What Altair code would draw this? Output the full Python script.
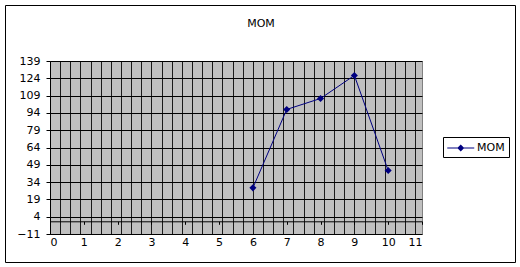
import altair as alt
import pandas as pd

# data
x_vals = [6, 7, 8, 9, 10]
y_vals = [29, 97, 106.5, 126.5, 44]
series = ["MOM"] * 5
y_ticks = [-11, 4, 19, 34, 49, 64, 79, 94, 109, 124, 139]
x_ticks = list(range(0, 12))
x_grid = [round(i * 0.3, 1) for i in range(0, 37)]
chart_title = "MOM"

df = pd.DataFrame({"x": x_vals, "y": y_vals, "series": series})

FONT = "DejaVu Sans"
NAVY = "#000080"

xscale = alt.Scale(domain=[0, 11], nice=False, zero=False)
yscale = alt.Scale(domain=[-11, 139], nice=False, zero=False)

y_enc = alt.Y(
    "y:Q",
    scale=yscale,
    title=None,
    axis=alt.Axis(
        orient="left",
        values=y_ticks,
        grid=True,
        gridColor="#000000",
        gridOpacity=1,
        gridWidth=1,
        tickSize=4,
        tickColor="#000000",
        domainColor="#000000",
        labelFont=FONT,
        labelFontSize=11,
        labelColor="#000000",
        labelPadding=6,
    ),
)

base = alt.Chart(df)

line = base.mark_line(color=NAVY, strokeWidth=1).encode(
    x=alt.X(
        "x:Q",
        scale=xscale,
        title=None,
        axis=alt.Axis(
            orient="bottom",
            values=x_grid,
            grid=True,
            gridColor="#1a1a1a",
            gridOpacity=1,
            gridWidth=1,
            ticks=False,
            labels=False,
            domain=False,
        ),
    ),
    y=y_enc,
)

zero_axis = base.mark_point(opacity=0).encode(
    x=alt.X(
        "x:Q",
        scale=xscale,
        title=None,
        axis=alt.Axis(
            orient="bottom",
            values=x_ticks,
            grid=False,
            labels=False,
            domain=True,
            domainColor="#000000",
            ticks=True,
            tickSize=3,
            tickColor="#000000",
            offset=-12.7,
        ),
    ),
    y=y_enc,
)

points = base.mark_point(filled=True, shape="diamond", size=50, opacity=1).encode(
    x=alt.X(
        "x:Q",
        scale=xscale,
        title=None,
        axis=alt.Axis(
            orient="bottom",
            values=x_ticks,
            grid=False,
            ticks=False,
            domain=False,
            labelFont=FONT,
            labelFontSize=11,
            labelColor="#000000",
            labelPadding=2,
        ),
    ),
    y=y_enc,
    color=alt.Color(
        "series:N",
        scale=alt.Scale(domain=["MOM"], range=[NAVY]),
        legend=alt.Legend(
            title=None,
            orient="none",
            legendX=393,
            legendY=76,
            padding=4,
            strokeColor="#000000",
            fillColor="#ffffff",
            symbolType="M-1,-0.08L3,-0.08L3,0.08L-1,0.08Z M1,-0.52L1.52,0L1,0.52L0.48,0Z",
            symbolSize=182,
            symbolStrokeWidth=0,
            symbolFillColor=NAVY,
            labelOffset=16,
            labelFont=FONT,
            labelFontSize=11,
            labelColor="#000000",
        ),
    ),
)

border = alt.Chart(pd.DataFrame({"a": [0]})).mark_rect(
    fillOpacity=0, stroke="#000000", strokeWidth=1
).encode(
    x=alt.value(-44.5),
    x2=alt.value(465.5),
    y=alt.value(-55.5),
    y2=alt.value(201.5),
)

title_text = alt.Chart(pd.DataFrame({"t": [chart_title]})).mark_text(
    font=FONT, fontSize=11, color="#000000", align="center", baseline="alphabetic"
).encode(
    text="t:N",
    x=alt.value(211),
    y=alt.value(-34.5),
)

chart = (
    alt.layer(line, zero_axis, points, border, title_text)
    .resolve_axis(x="independent")
    .properties(
        width=372,
        height=173,
        autosize=alt.AutoSizeParams(type="none"),
        padding={"left": 50, "top": 61, "right": 98, "bottom": 33},
        background="#ffffff",
    )
    .configure_view(fill="#C0C0C0", stroke="#808080", strokeWidth=1)
)

chart.save("out.html", embed_options={"renderer": "svg", "actions": False})
